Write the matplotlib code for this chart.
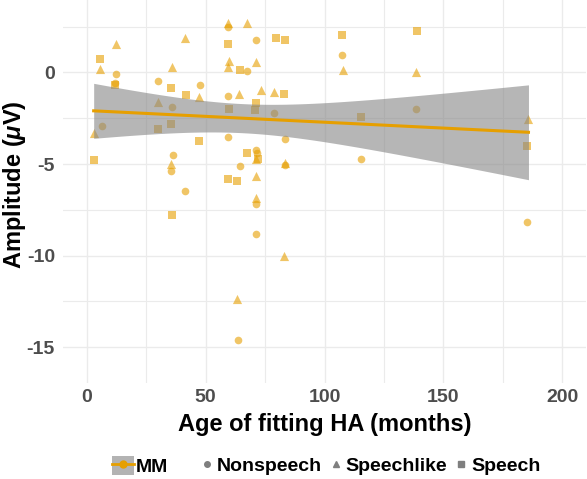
import numpy as np
import matplotlib
matplotlib.use("Agg")
import matplotlib.pyplot as plt
from matplotlib.lines import Line2D
from matplotlib.patches import Patch
from matplotlib.legend_handler import HandlerTuple

plt.rcParams['font.family'] = ['Liberation Sans', 'DejaVu Sans']
plt.rcParams['mathtext.fontset'] = 'custom'
plt.rcParams['mathtext.it'] = 'Liberation Sans:bold:italic'
plt.rcParams['mathtext.rm'] = 'Liberation Sans:bold'

# ---- data (age of HA fitting in months, amplitude in uV) ----
nonspeech_x = [12.2, 11.8, 6.2, 30, 36, 36.1, 35.4, 47.6, 59.3, 67.6, 71.1, 59.4, 59.3,
               71.2, 71.4, 64.4, 78.9, 107.3, 138.6, 115.3, 83.3, 83.3, 41.2, 71.1, 71.1,
               63.75, 185]
nonspeech_y = [-0.09, -0.57, -2.9, -0.45, -1.9, -4.53, -5.4, -0.71, 2.48, 0.07, 1.79, -1.29, -3.5,
               -4.26, -4.4, -5.13, -2.19, 0.94, -2.01, -4.71, -3.64, -5.04, -6.49, -7.16, -8.8,
               -14.6, -8.14]
speechlike_x = [12.2, 5.7, 3.0, 29.8, 41.4, 36, 35.3, 47.3, 59.3, 59.8, 59.3, 67.3, 71.1, 64.2,
                71.3, 73.1, 78.9, 107.6, 138.6, 83.3, 71.1, 71.1, 83.1, 63.2, 185.8]
speechlike_y = [1.57, 0.16, -3.32, -1.6, 1.88, 0.3, -4.98, -1.36, 2.7, 0.61, 0.27, 2.7, 0.58, -1.18,
                -4.75, -0.96, -1.05, 0.13, 0.02, -4.95, -5.67, -6.87, -10.02, -12.37, -2.55]
speech_x = [11.8, 5.7, 2.9, 29.8, 35.5, 35.5, 41.7, 47.2, 59.3, 64.6, 59.7, 70.8, 71.1, 67.3,
            79.4, 83.5, 83, 107.3, 139, 115.3, 59.3, 63.3, 72.2, 36, 185]
speech_y = [-0.69, 0.71, -4.8, -3.1, -0.87, -2.83, -1.22, -3.73, 1.55, 0.13, -2.0, -2.05, -1.65, -4.4,
            1.9, 1.74, -1.18, 2.03, 2.26, -2.41, -5.8, -5.93, -4.75, -7.79, -4.04]

x_ticks = [0, 50, 100, 150, 200]
y_ticks = [-15, -10, -5, 0]
ORANGE = '#E69F00'

fig = plt.figure(figsize=(5.87, 4.79), dpi=100)
ax = fig.add_axes([63/587, (479-383)/479, (586-63)/587, 383/479])
ax.set_xlim(-10, 210)
ax.set_ylim(-16.95, 3.95)

# grid
for v in x_ticks:
    ax.axvline(v, color='#EBEBEB', lw=1.0, zorder=0)
for v in [25, 75, 125, 175]:
    ax.axvline(v, color='#EBEBEB', lw=0.8, zorder=0)
for v in y_ticks:
    ax.axhline(v, color='#EBEBEB', lw=1.0, zorder=0)
for v in [2.5, -2.5, -7.5, -12.5]:
    ax.axhline(v, color='#EBEBEB', lw=0.8, zorder=0)

ms = 5.5
ax.scatter(nonspeech_x, nonspeech_y, marker='o', s=ms**2, color=ORANGE, alpha=0.6, lw=0, zorder=2)
ax.scatter(speechlike_x, speechlike_y, marker='^', s=(ms*1.2)**2, color=ORANGE, alpha=0.6, lw=0, zorder=2)
ax.scatter(speech_x, speech_y, marker='s', s=(ms*0.95)**2, color=ORANGE, alpha=0.6, lw=0, zorder=2)

# linear fit with 95% CI over all points
X = np.array(nonspeech_x + speechlike_x + speech_x)
Y = np.array(nonspeech_y + speechlike_y + speech_y)
n = len(X)
b1, b0 = np.polyfit(X, Y, 1)
resid = Y - (b0 + b1 * X)
s = np.sqrt(np.sum(resid**2) / (n - 2))
xm = X.mean()
sxx = np.sum((X - xm)**2)
t = 1.9893  # t(0.975, df~75)
xg = np.linspace(X.min(), X.max(), 80)
yg = b0 + b1 * xg
se = s * np.sqrt(1/n + (xg - xm)**2 / sxx)
ax.fill_between(xg, yg - t*se, yg + t*se, color='#868686', alpha=0.6, lw=0, zorder=3)
ax.plot(xg, yg, color=ORANGE, lw=2.2, zorder=4)

for sp in ax.spines.values():
    sp.set_visible(False)
ax.set_xticks(x_ticks)
ax.set_yticks(y_ticks)
ax.set_xticklabels([str(v) for v in x_ticks])
ax.set_yticklabels([str(v) for v in y_ticks])
ax.tick_params(length=0, labelsize=14, labelcolor='#4D4D4D')
ax.tick_params(axis='x', pad=4.5)
ax.tick_params(axis='y', pad=5.8)
for lab in ax.get_xticklabels() + ax.get_yticklabels():
    lab.set_fontweight('bold')
ax.set_xlabel('Age of fitting HA (months)', fontsize=17, fontweight='bold')
ax.xaxis.set_label_coords(0.5, -42/383)
ax.xaxis.label.set_va('center')
ax.set_ylabel('Amplitude ($\\mu$V)', fontsize=17, fontweight='bold')
ax.yaxis.set_label_coords(-48/523, 0.517)
ax.yaxis.label.set_va('center')

# legends
h_mm = (Patch(facecolor='#B3B3B3', edgecolor='none'),
        Line2D([], [], color=ORANGE, lw=2, marker='o', markersize=5))
leg1 = fig.legend([h_mm], ['MM'], loc='center', bbox_to_anchor=(140/587, 1 - 466/479),
                  frameon=False, handler_map={tuple: HandlerTuple(ndivide=1, pad=0)},
                  prop={'weight': 'bold', 'size': 14}, handlelength=1.15, handleheight=1.15,
                  handletextpad=0.1, borderaxespad=0)
gray = '#7F7F7F'
hs = [Line2D([], [], ls='none', marker='o', color=gray, markersize=4),
      Line2D([], [], ls='none', marker='^', color=gray, markersize=4.5),
      Line2D([], [], ls='none', marker='s', color=gray, markersize=4)]
leg2 = fig.legend(hs, ['Nonspeech', 'Speechlike', 'Speech'], loc='center',
                  bbox_to_anchor=(371/587, 1 - 466/479), ncol=3, frameon=False,
                  prop={'weight': 'bold', 'size': 14}, handlelength=0.6,
                  handletextpad=0.2, columnspacing=0.42, borderaxespad=0)

fig.savefig('out.png', dpi=100)
